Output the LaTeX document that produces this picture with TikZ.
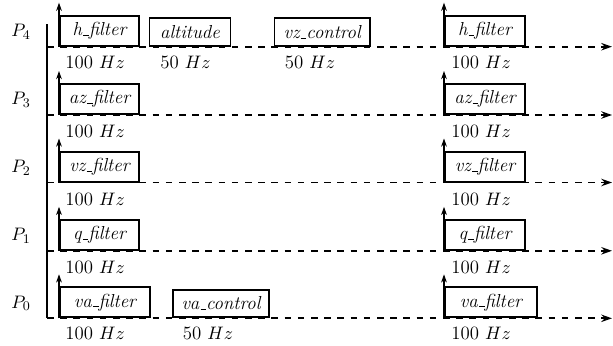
\documentclass[tikz,border=0pt]{standalone}
\usetikzlibrary{arrows.meta}
\newlength{\ux}
\setlength{\ux}{0.606pt}
\newcommand{\us}{\leavevmode\kern.06em\vbox{\hrule width.3em}}
\begin{document}
\begin{tikzpicture}[x=\ux,y=-\ux,
  every node/.style={font=\fontsize{11.4}{13.7}\selectfont},
  box/.style={draw,line width=1.2pt,inner sep=0pt,anchor=south west,font=\fontsize{11.4}{13.7}\selectfont\itshape},
  fbox/.style={box,minimum height=30\ux},
  cbox/.style={box,minimum height=27.5\ux},
  dline/.style={dash pattern=on 4pt off 4pt,line width=1.2pt,-{Stealth[length=6.5pt,width=4.5pt]}},
  uarr/.style={line width=0.7pt,-{Stealth[length=5pt,width=3.5pt]}},
  axis/.style={line width=1.2pt},
  freq/.style={anchor=west,inner sep=0pt},
  plab/.style={inner sep=0pt}]
\useasboundingbox (0,0) rectangle (613,345);
% line y positions
\def\yA{46.7}\def\yB{115}\def\yC{182.5}\def\yD{250.8}\def\yE{318.3}
% axis
\coordinate (axtop) at (47,24);
\coordinate (s4) at (47,\yA);
\coordinate (s3) at (47,\yB);
\coordinate (s2) at (47,\yC);
\coordinate (s1) at (47,\yD);
\coordinate (s0) at (47,\yE);
\coordinate (e4) at (612,\yA);
\coordinate (e3) at (612,\yB);
\coordinate (e2) at (612,\yC);
\coordinate (e1) at (612,\yD);
\coordinate (e0) at (612,\yE);
\draw[dline] (s4) -- (e4);
\draw[dline] (s3) -- (e3);
\draw[dline] (s2) -- (e2);
\draw[dline] (s1) -- (e1);
\draw[dline] (s0) -- (e0);
\draw[axis] (axtop) -- (s0);
% labels P
\node[plab] (p4) at (21,\yA-15) {$P_4$};
\node[plab] (p3) at (21,\yB-15) {$P_3$};
\node[plab] (p2) at (21,\yC-15) {$P_2$};
\node[plab] (p1) at (21,\yD-15) {$P_1$};
\node[plab] (p0) at (21,\yE-15) {$P_0$};
% P4 row
\node[fbox,minimum width=79\ux] (h4a) at (59,\yA) {h\us filter};
\node[cbox,minimum width=81\ux] (alt) at (148.5,\yA) {altitude};
\node[cbox,minimum width=95.5\ux] (vzc) at (273.5,\yA) {vz\us control};
\node[fbox,minimum width=80\ux] (h4b) at (444,\yA) {h\us filter};
% P3 row
\node[fbox,minimum width=79\ux] (a3a) at (59,\yB) {az\us filter};
\node[fbox,minimum width=80\ux] (a3b) at (444,\yB) {az\us filter};
% P2 row
\node[fbox,minimum width=79\ux] (v2a) at (59,\yC) {vz\us filter};
\node[fbox,minimum width=80\ux] (v2b) at (444,\yC) {vz\us filter};
% P1 row
\node[fbox,minimum width=79\ux] (q1a) at (59,\yD) {q\us filter};
\node[fbox,minimum width=80\ux] (q1b) at (444,\yD) {q\us filter};
% P0 row
\node[fbox,minimum width=90\ux] (va0a) at (59,\yE) {va\us filter};
\node[cbox,minimum width=96\ux] (vac) at (172,\yE) {va\us control};
\node[fbox,minimum width=92\ux] (va0b) at (444,\yE) {va\us filter};
% up arrows
\foreach \n in {h4a,h4b,a3a,a3b,v2a,v2b,q1a,q1b,va0a,va0b}{
  \coordinate (t\n) at ([yshift=44\ux]\n.south west);
  \draw[uarr] (\n.south west) -- (t\n);
}
% frequency labels
\node[freq] (fh4a) at (65,\yA+15.5) {100 $Hz$};
\node[freq] (falt) at (160,\yA+15.5) {50 $Hz$};
\node[freq] (fvzc) at (284.5,\yA+15.5) {50 $Hz$};
\node[freq] (fh4b) at (451,\yA+15.5) {100 $Hz$};
\node[freq] (fa3a) at (65,\yB+16.5) {100 $Hz$};
\node[freq] (fa3b) at (451,\yB+16.5) {100 $Hz$};
\node[freq] (fv2a) at (65,\yC+16.5) {100 $Hz$};
\node[freq] (fv2b) at (451,\yC+16.5) {100 $Hz$};
\node[freq] (fq1a) at (65,\yD+16.5) {100 $Hz$};
\node[freq] (fq1b) at (451,\yD+16.5) {100 $Hz$};
\node[freq] (fva0a) at (65,\yE+15.5) {100 $Hz$};
\node[freq] (fvac) at (182.5,\yE+15.5) {50 $Hz$};
\node[freq] (fva0b) at (451,\yE+15.5) {100 $Hz$};
\end{tikzpicture}
\end{document}
